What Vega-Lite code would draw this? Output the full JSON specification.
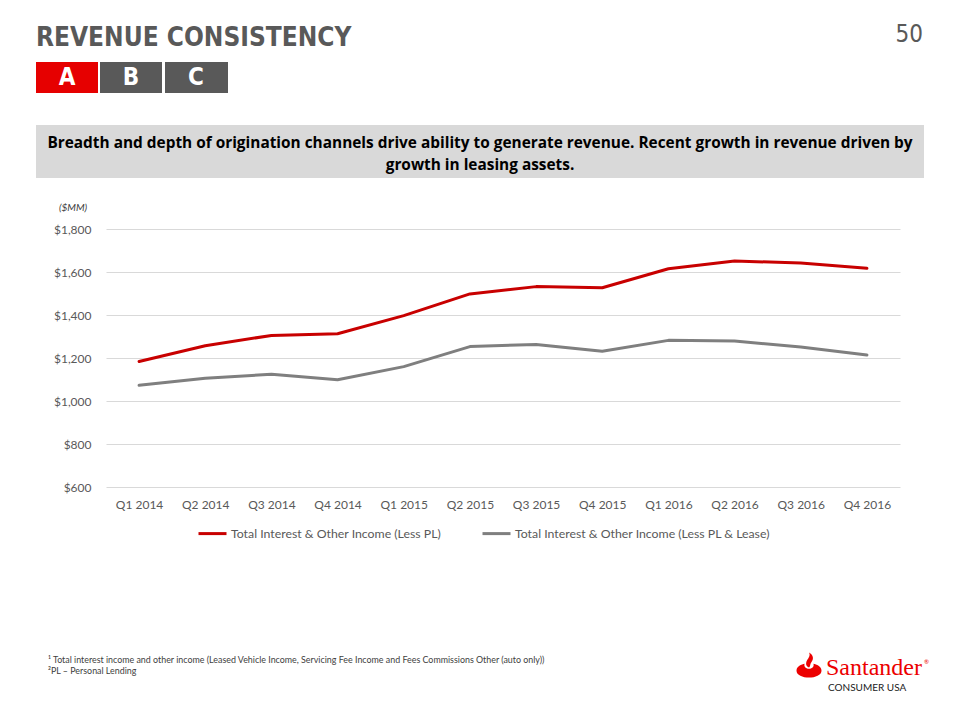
{
  "$schema": "https://vega.github.io/schema/vega-lite/v6.json",
  "width": 794,
  "height": 258,
  "autosize": {"type": "none"},
  "padding": {"left": 106, "top": 229, "right": 60, "bottom": 233},
  "background": "white",
  "config": {"view": {"stroke": null}, "font": "Lato"},
  "layer": [
    {
      "data": {
        "values": [
          {"quarter": "Q1 2014", "series": "Total Interest & Other Income (Less PL)", "value": 1184},
          {"quarter": "Q2 2014", "series": "Total Interest & Other Income (Less PL)", "value": 1257},
          {"quarter": "Q3 2014", "series": "Total Interest & Other Income (Less PL)", "value": 1305},
          {"quarter": "Q4 2014", "series": "Total Interest & Other Income (Less PL)", "value": 1313},
          {"quarter": "Q1 2015", "series": "Total Interest & Other Income (Less PL)", "value": 1397},
          {"quarter": "Q2 2015", "series": "Total Interest & Other Income (Less PL)", "value": 1498},
          {"quarter": "Q3 2015", "series": "Total Interest & Other Income (Less PL)", "value": 1532},
          {"quarter": "Q4 2015", "series": "Total Interest & Other Income (Less PL)", "value": 1527},
          {"quarter": "Q1 2016", "series": "Total Interest & Other Income (Less PL)", "value": 1615},
          {"quarter": "Q2 2016", "series": "Total Interest & Other Income (Less PL)", "value": 1651},
          {"quarter": "Q3 2016", "series": "Total Interest & Other Income (Less PL)", "value": 1642},
          {"quarter": "Q4 2016", "series": "Total Interest & Other Income (Less PL)", "value": 1617},
          {"quarter": "Q1 2014", "series": "Total Interest & Other Income (Less PL & Lease)", "value": 1073},
          {"quarter": "Q2 2014", "series": "Total Interest & Other Income (Less PL & Lease)", "value": 1106},
          {"quarter": "Q3 2014", "series": "Total Interest & Other Income (Less PL & Lease)", "value": 1124},
          {"quarter": "Q4 2014", "series": "Total Interest & Other Income (Less PL & Lease)", "value": 1099},
          {"quarter": "Q1 2015", "series": "Total Interest & Other Income (Less PL & Lease)", "value": 1160},
          {"quarter": "Q2 2015", "series": "Total Interest & Other Income (Less PL & Lease)", "value": 1253},
          {"quarter": "Q3 2015", "series": "Total Interest & Other Income (Less PL & Lease)", "value": 1263},
          {"quarter": "Q4 2015", "series": "Total Interest & Other Income (Less PL & Lease)", "value": 1231},
          {"quarter": "Q1 2016", "series": "Total Interest & Other Income (Less PL & Lease)", "value": 1282},
          {"quarter": "Q2 2016", "series": "Total Interest & Other Income (Less PL & Lease)", "value": 1279},
          {"quarter": "Q3 2016", "series": "Total Interest & Other Income (Less PL & Lease)", "value": 1251},
          {"quarter": "Q4 2016", "series": "Total Interest & Other Income (Less PL & Lease)", "value": 1214}
        ]
      },
      "mark": {"type": "line", "strokeWidth": 3, "strokeCap": "round", "strokeJoin": "round"},
      "encoding": {
        "x": {
          "field": "quarter", "type": "nominal",
          "sort": ["Q1 2014", "Q2 2014", "Q3 2014", "Q4 2014", "Q1 2015", "Q2 2015", "Q3 2015", "Q4 2015", "Q1 2016", "Q2 2016", "Q3 2016", "Q4 2016"],
          "scale": {"type": "point", "padding": 0.5},
          "axis": {"title": null, "labelAngle": 0, "domain": false, "ticks": false, "grid": false, "labelPadding": 12, "labelColor": "#595959", "labelFontSize": 12, "labelFont": "Lato"}
        },
        "y": {
          "field": "value", "type": "quantitative",
          "scale": {"domain": [600, 1800], "nice": false, "zero": false},
          "axis": {"title": null, "values": [600, 800, 1000, 1200, 1400, 1600, 1800], "format": "$,.0f", "domain": false, "ticks": false, "grid": true, "gridColor": "#d9d9d9", "gridWidth": 1, "labelPadding": 15, "labelColor": "#595959", "labelFontSize": 12, "labelFont": "Lato"}
        },
        "color": {
          "field": "series", "type": "nominal",
          "scale": {"domain": ["Total Interest & Other Income (Less PL)", "Total Interest & Other Income (Less PL & Lease)"], "range": ["#c80000", "#7f7f7f"]},
          "legend": {"title": null, "orient": "none", "legendX": 91, "legendY": 289, "direction": "horizontal", "symbolType": "stroke", "symbolSize": 784, "symbolStrokeWidth": 3, "labelFontSize": 12.3, "labelFont": "Lato", "labelColor": "#595959", "labelOffset": 3, "columnPadding": 34, "labelLimit": 400}
        }
      }
    },
    {
      "data": {"values": [{}]},
      "mark": {"type": "rule", "x": -70, "x2": 818, "y": -172, "y2": -172, "stroke": "#7f7f7f", "strokeWidth": 1.5},
      "encoding": {}
    },
    {
      "data": {"values": [{}]},
      "mark": {"type": "rect", "x": -70, "x2": 818, "y": -104, "y2": -51, "fill": "#d9d9d9"},
      "encoding": {}
    },
    {
      "data": {"values": [{}]},
      "mark": {"type": "rect", "x": -70, "x2": -8, "y": -167, "y2": -136, "fill": "#e60000"},
      "encoding": {}
    },
    {
      "data": {"values": [{}]},
      "mark": {"type": "rect", "x": -6, "x2": 56, "y": -167, "y2": -136, "fill": "#595959"},
      "encoding": {}
    },
    {
      "data": {"values": [{}]},
      "mark": {"type": "rect", "x": 59, "x2": 122, "y": -167, "y2": -136, "fill": "#595959"},
      "encoding": {}
    },
    {
      "data": {"values": [{}]},
      "mark": {"type": "text", "text": "A", "x": -39, "y": -151, "align": "center", "baseline": "middle", "font": "DejaVu Sans Condensed, sans-serif", "fontWeight": "bold", "fontSize": 24, "fill": "white"},
      "encoding": {}
    },
    {
      "data": {"values": [{}]},
      "mark": {"type": "text", "text": "B", "x": 25, "y": -151, "align": "center", "baseline": "middle", "font": "DejaVu Sans Condensed, sans-serif", "fontWeight": "bold", "fontSize": 24, "fill": "white"},
      "encoding": {}
    },
    {
      "data": {"values": [{}]},
      "mark": {"type": "text", "text": "C", "x": 90, "y": -151, "align": "center", "baseline": "middle", "font": "DejaVu Sans Condensed, sans-serif", "fontWeight": "bold", "fontSize": 24, "fill": "white"},
      "encoding": {}
    },
    {
      "data": {"values": [{}]},
      "mark": {"type": "text", "text": "REVENUE CONSISTENCY", "x": -70, "y": -183, "align": "left", "baseline": "alphabetic", "font": "DejaVu Sans Condensed, sans-serif", "fontWeight": "bold", "fontSize": 26, "fill": "#595959"},
      "encoding": {}
    },
    {
      "data": {"values": [{}]},
      "mark": {"type": "text", "text": "50", "x": 817, "y": -187, "align": "right", "baseline": "alphabetic", "font": "DejaVu Sans Condensed, sans-serif", "fontSize": 24, "fill": "#595959"},
      "encoding": {}
    },
    {
      "data": {"values": [{}]},
      "mark": {"type": "text", "text": "Breadth and depth of origination channels drive ability to generate revenue. Recent growth in revenue driven by", "x": 374, "y": -81, "align": "center", "baseline": "alphabetic", "font": "Open Sans", "fontWeight": "bold", "fontSize": 15.4, "fill": "#000000"},
      "encoding": {}
    },
    {
      "data": {"values": [{}]},
      "mark": {"type": "text", "text": "growth in leasing assets.", "x": 374, "y": -59, "align": "center", "baseline": "alphabetic", "font": "Open Sans", "fontWeight": "bold", "fontSize": 15.4, "fill": "#000000"},
      "encoding": {}
    },
    {
      "data": {"values": [{}]},
      "mark": {"type": "text", "text": "($MM)", "x": -33, "y": -21, "align": "center", "baseline": "middle", "font": "Lato", "fontStyle": "italic", "fontSize": 10, "fill": "#404040"},
      "encoding": {}
    },
    {
      "data": {"values": [{}]},
      "mark": {"type": "text", "text": "¹ Total interest income and other income (Leased Vehicle Income, Servicing Fee Income and Fees Commissions Other (auto only))", "x": -58, "y": 431, "align": "left", "baseline": "middle", "font": "Lato", "fontSize": 8.9, "fill": "#404040"},
      "encoding": {}
    },
    {
      "data": {"values": [{}]},
      "mark": {"type": "text", "text": "²PL – Personal Lending", "x": -58, "y": 442, "align": "left", "baseline": "middle", "font": "Lato", "fontSize": 8.9, "fill": "#404040"},
      "encoding": {}
    },
    {
      "data": {"values": [{}]},
      "mark": {"type": "point", "x": 703, "y": 436, "filled": true, "fill": "#ec0000", "stroke": null, "opacity": 1, "size": 625,
        "shape": "M -1 0.45 C -1 0.1 -0.6 -0.05 -0.35 -0.1 C -0.45 0.15 -0.2 0.3 0 0.3 C 0.2 0.3 0.45 0.15 0.35 -0.1 C 0.6 -0.05 1 0.1 1 0.45 C 1 0.8 0.5 1 0 1 C -0.5 1 -1 0.8 -1 0.45 Z M 0 0.2 C -0.35 0.05 -0.25 -0.3 -0.05 -0.55 C 0.1 -0.75 0.05 -0.9 0 -1 C 0.35 -0.8 0.4 -0.5 0.2 -0.25 C 0.05 -0.05 0.15 0.05 0 0.2 Z"},
      "encoding": {}
    },
    {
      "data": {"values": [{}]},
      "mark": {"type": "text", "text": "Santander", "x": 720, "y": 446, "align": "left", "baseline": "alphabetic", "font": "Liberation Serif", "fontSize": 24, "fill": "#ec0000"},
      "encoding": {}
    },
    {
      "data": {"values": [{}]},
      "mark": {"type": "text", "text": "®", "x": 818, "y": 433, "align": "left", "baseline": "middle", "font": "Lato", "fontSize": 6, "fill": "#ec0000"},
      "encoding": {}
    },
    {
      "data": {"values": [{}]},
      "mark": {"type": "text", "text": "CONSUMER USA", "x": 722, "y": 459, "align": "left", "baseline": "middle", "font": "Lato", "fontSize": 10, "fill": "#222222"},
      "encoding": {}
    }
  ]
}
